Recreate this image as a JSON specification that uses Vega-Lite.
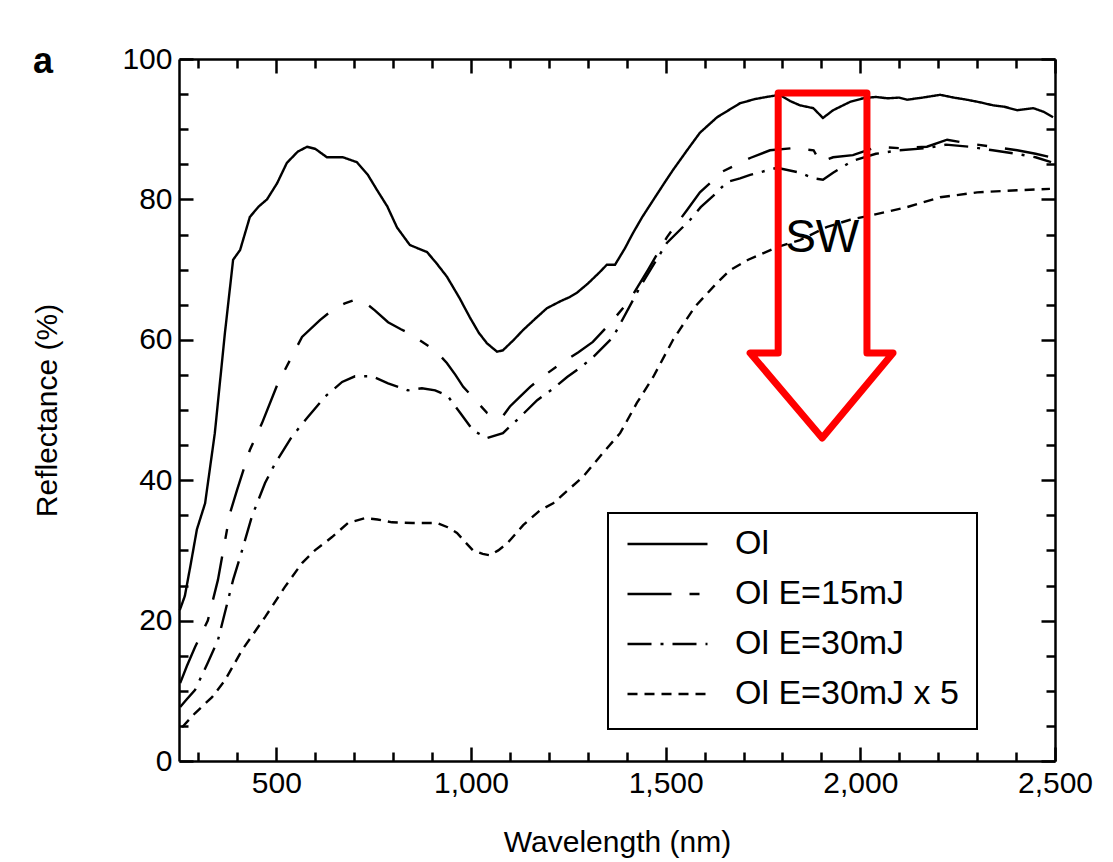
{
  "$schema": "https://vega.github.io/schema/vega-lite/v6.json",
  "width": 876,
  "height": 702,
  "autosize": {"type": "none"},
  "padding": {"left": 179, "top": 59, "right": 58, "bottom": 101},
  "background": "white",
  "title": {"text": "a", "anchor": "start", "frame": "group", "fontSize": 36, "fontWeight": "bold", "font": "Liberation Sans", "color": "black", "dx": -146, "baseline": "alphabetic", "offset": 0, "dy": 65},
  "config": {
    "view": {"stroke": null},
    "title": {"font": "Liberation Sans"},
    "axis": {"domainColor": "black", "domainWidth": 2.5, "tickColor": "black", "tickWidth": 2.5, "labelFont": "Liberation Sans", "labelFontSize": 30, "labelColor": "black", "titleFont": "Liberation Sans", "titleFontSize": 30, "titleFontWeight": "normal", "titleColor": "black", "grid": false, "labelOverlap": false, "labelFlush": false, "labelBound": false},
    "legend": {"strokeColor": "black", "strokeWidth": 2, "fillColor": "white"}
  },
  "datasets": {
    "series": [
      {"series": "Ol", "wavelength": 252, "reflectance": 21.5},
      {"series": "Ol", "wavelength": 265, "reflectance": 23.5},
      {"series": "Ol", "wavelength": 280, "reflectance": 28},
      {"series": "Ol", "wavelength": 296, "reflectance": 33},
      {"series": "Ol", "wavelength": 317, "reflectance": 36.7},
      {"series": "Ol", "wavelength": 342, "reflectance": 46.7},
      {"series": "Ol", "wavelength": 368, "reflectance": 61},
      {"series": "Ol", "wavelength": 389, "reflectance": 71.4},
      {"series": "Ol", "wavelength": 407, "reflectance": 72.8},
      {"series": "Ol", "wavelength": 432, "reflectance": 77.5},
      {"series": "Ol", "wavelength": 455, "reflectance": 79},
      {"series": "Ol", "wavelength": 476, "reflectance": 80},
      {"series": "Ol", "wavelength": 502, "reflectance": 82.3},
      {"series": "Ol", "wavelength": 527, "reflectance": 85.2},
      {"series": "Ol", "wavelength": 555, "reflectance": 86.8},
      {"series": "Ol", "wavelength": 579, "reflectance": 87.5},
      {"series": "Ol", "wavelength": 600, "reflectance": 87.2},
      {"series": "Ol", "wavelength": 630, "reflectance": 86},
      {"series": "Ol", "wavelength": 671, "reflectance": 86},
      {"series": "Ol", "wavelength": 707, "reflectance": 85.3},
      {"series": "Ol", "wavelength": 735, "reflectance": 83.5},
      {"series": "Ol", "wavelength": 759, "reflectance": 81.3},
      {"series": "Ol", "wavelength": 785, "reflectance": 79},
      {"series": "Ol", "wavelength": 810, "reflectance": 76},
      {"series": "Ol", "wavelength": 843, "reflectance": 73.5},
      {"series": "Ol", "wavelength": 865, "reflectance": 73},
      {"series": "Ol", "wavelength": 887, "reflectance": 72.5},
      {"series": "Ol", "wavelength": 910, "reflectance": 71},
      {"series": "Ol", "wavelength": 938, "reflectance": 69},
      {"series": "Ol", "wavelength": 970, "reflectance": 66},
      {"series": "Ol", "wavelength": 997, "reflectance": 63.2},
      {"series": "Ol", "wavelength": 1020, "reflectance": 61},
      {"series": "Ol", "wavelength": 1041, "reflectance": 59.5},
      {"series": "Ol", "wavelength": 1067, "reflectance": 58.3},
      {"series": "Ol", "wavelength": 1082, "reflectance": 58.5},
      {"series": "Ol", "wavelength": 1110, "reflectance": 60},
      {"series": "Ol", "wavelength": 1134, "reflectance": 61.4},
      {"series": "Ol", "wavelength": 1165, "reflectance": 63},
      {"series": "Ol", "wavelength": 1195, "reflectance": 64.5},
      {"series": "Ol", "wavelength": 1230, "reflectance": 65.5},
      {"series": "Ol", "wavelength": 1254, "reflectance": 66.1},
      {"series": "Ol", "wavelength": 1272, "reflectance": 66.7},
      {"series": "Ol", "wavelength": 1300, "reflectance": 68},
      {"series": "Ol", "wavelength": 1330, "reflectance": 69.6},
      {"series": "Ol", "wavelength": 1349, "reflectance": 70.7},
      {"series": "Ol", "wavelength": 1370, "reflectance": 70.7},
      {"series": "Ol", "wavelength": 1395, "reflectance": 73},
      {"series": "Ol", "wavelength": 1416, "reflectance": 75.2},
      {"series": "Ol", "wavelength": 1440, "reflectance": 77.5},
      {"series": "Ol", "wavelength": 1468, "reflectance": 79.9},
      {"series": "Ol", "wavelength": 1495, "reflectance": 82.2},
      {"series": "Ol", "wavelength": 1519, "reflectance": 84.2},
      {"series": "Ol", "wavelength": 1555, "reflectance": 87},
      {"series": "Ol", "wavelength": 1588, "reflectance": 89.5},
      {"series": "Ol", "wavelength": 1632, "reflectance": 91.7},
      {"series": "Ol", "wavelength": 1691, "reflectance": 93.7},
      {"series": "Ol", "wavelength": 1730, "reflectance": 94.3},
      {"series": "Ol", "wavelength": 1760, "reflectance": 94.6},
      {"series": "Ol", "wavelength": 1793, "reflectance": 94.9},
      {"series": "Ol", "wavelength": 1820, "reflectance": 94},
      {"series": "Ol", "wavelength": 1845, "reflectance": 93.4},
      {"series": "Ol", "wavelength": 1879, "reflectance": 93},
      {"series": "Ol", "wavelength": 1904, "reflectance": 91.6},
      {"series": "Ol", "wavelength": 1930, "reflectance": 92.7},
      {"series": "Ol", "wavelength": 1974, "reflectance": 93.9},
      {"series": "Ol", "wavelength": 2007, "reflectance": 94.4},
      {"series": "Ol", "wavelength": 2040, "reflectance": 94.6},
      {"series": "Ol", "wavelength": 2069, "reflectance": 94.4},
      {"series": "Ol", "wavelength": 2100, "reflectance": 94.5},
      {"series": "Ol", "wavelength": 2120, "reflectance": 94.2},
      {"series": "Ol", "wavelength": 2160, "reflectance": 94.5},
      {"series": "Ol", "wavelength": 2205, "reflectance": 94.9},
      {"series": "Ol", "wavelength": 2240, "reflectance": 94.5},
      {"series": "Ol", "wavelength": 2274, "reflectance": 94.2},
      {"series": "Ol", "wavelength": 2310, "reflectance": 93.8},
      {"series": "Ol", "wavelength": 2341, "reflectance": 93.4},
      {"series": "Ol", "wavelength": 2370, "reflectance": 93.2},
      {"series": "Ol", "wavelength": 2403, "reflectance": 92.7},
      {"series": "Ol", "wavelength": 2444, "reflectance": 93},
      {"series": "Ol", "wavelength": 2470, "reflectance": 92.5},
      {"series": "Ol", "wavelength": 2495, "reflectance": 91.7},

      {"series": "Ol E=15mJ", "wavelength": 253, "reflectance": 11.1},
      {"series": "Ol E=15mJ", "wavelength": 270, "reflectance": 13.5},
      {"series": "Ol E=15mJ", "wavelength": 291, "reflectance": 16.2},
      {"series": "Ol E=15mJ", "wavelength": 324, "reflectance": 20},
      {"series": "Ol E=15mJ", "wavelength": 350, "reflectance": 25.8},
      {"series": "Ol E=15mJ", "wavelength": 381, "reflectance": 35.3},
      {"series": "Ol E=15mJ", "wavelength": 399, "reflectance": 38.6},
      {"series": "Ol E=15mJ", "wavelength": 432, "reflectance": 44.3},
      {"series": "Ol E=15mJ", "wavelength": 463, "reflectance": 48.1},
      {"series": "Ol E=15mJ", "wavelength": 504, "reflectance": 53.8},
      {"series": "Ol E=15mJ", "wavelength": 535, "reflectance": 57.1},
      {"series": "Ol E=15mJ", "wavelength": 566, "reflectance": 60.4},
      {"series": "Ol E=15mJ", "wavelength": 612, "reflectance": 62.8},
      {"series": "Ol E=15mJ", "wavelength": 650, "reflectance": 64.5},
      {"series": "Ol E=15mJ", "wavelength": 676, "reflectance": 65.2},
      {"series": "Ol E=15mJ", "wavelength": 702, "reflectance": 65.7},
      {"series": "Ol E=15mJ", "wavelength": 730, "reflectance": 65.2},
      {"series": "Ol E=15mJ", "wavelength": 753, "reflectance": 64.2},
      {"series": "Ol E=15mJ", "wavelength": 787, "reflectance": 62.5},
      {"series": "Ol E=15mJ", "wavelength": 820, "reflectance": 61.5},
      {"series": "Ol E=15mJ", "wavelength": 849, "reflectance": 60.7},
      {"series": "Ol E=15mJ", "wavelength": 880, "reflectance": 59.5},
      {"series": "Ol E=15mJ", "wavelength": 908, "reflectance": 58.5},
      {"series": "Ol E=15mJ", "wavelength": 938, "reflectance": 56.7},
      {"series": "Ol E=15mJ", "wavelength": 960, "reflectance": 55},
      {"series": "Ol E=15mJ", "wavelength": 980, "reflectance": 53.3},
      {"series": "Ol E=15mJ", "wavelength": 1010, "reflectance": 51.5},
      {"series": "Ol E=15mJ", "wavelength": 1041, "reflectance": 49.6},
      {"series": "Ol E=15mJ", "wavelength": 1060, "reflectance": 49},
      {"series": "Ol E=15mJ", "wavelength": 1080, "reflectance": 49},
      {"series": "Ol E=15mJ", "wavelength": 1100, "reflectance": 50.5},
      {"series": "Ol E=15mJ", "wavelength": 1126, "reflectance": 51.9},
      {"series": "Ol E=15mJ", "wavelength": 1152, "reflectance": 53.3},
      {"series": "Ol E=15mJ", "wavelength": 1190, "reflectance": 55},
      {"series": "Ol E=15mJ", "wavelength": 1236, "reflectance": 56.8},
      {"series": "Ol E=15mJ", "wavelength": 1275, "reflectance": 58.2},
      {"series": "Ol E=15mJ", "wavelength": 1313, "reflectance": 59.7},
      {"series": "Ol E=15mJ", "wavelength": 1360, "reflectance": 62.5},
      {"series": "Ol E=15mJ", "wavelength": 1408, "reflectance": 65.7},
      {"series": "Ol E=15mJ", "wavelength": 1455, "reflectance": 70},
      {"series": "Ol E=15mJ", "wavelength": 1503, "reflectance": 74.6},
      {"series": "Ol E=15mJ", "wavelength": 1555, "reflectance": 78.5},
      {"series": "Ol E=15mJ", "wavelength": 1588, "reflectance": 81},
      {"series": "Ol E=15mJ", "wavelength": 1647, "reflectance": 84},
      {"series": "Ol E=15mJ", "wavelength": 1717, "reflectance": 85.9},
      {"series": "Ol E=15mJ", "wavelength": 1768, "reflectance": 87},
      {"series": "Ol E=15mJ", "wavelength": 1827, "reflectance": 87.3},
      {"series": "Ol E=15mJ", "wavelength": 1880, "reflectance": 87},
      {"series": "Ol E=15mJ", "wavelength": 1897, "reflectance": 85.3},
      {"series": "Ol E=15mJ", "wavelength": 1930, "reflectance": 86},
      {"series": "Ol E=15mJ", "wavelength": 1981, "reflectance": 86.3},
      {"series": "Ol E=15mJ", "wavelength": 2043, "reflectance": 87.5},
      {"series": "Ol E=15mJ", "wavelength": 2102, "reflectance": 87.3},
      {"series": "Ol E=15mJ", "wavelength": 2171, "reflectance": 87.5},
      {"series": "Ol E=15mJ", "wavelength": 2223, "reflectance": 88.5},
      {"series": "Ol E=15mJ", "wavelength": 2274, "reflectance": 88},
      {"series": "Ol E=15mJ", "wavelength": 2341, "reflectance": 87.5},
      {"series": "Ol E=15mJ", "wavelength": 2403, "reflectance": 87},
      {"series": "Ol E=15mJ", "wavelength": 2450, "reflectance": 86.5},
      {"series": "Ol E=15mJ", "wavelength": 2490, "reflectance": 86},

      {"series": "Ol E=30mJ", "wavelength": 253, "reflectance": 7.7},
      {"series": "Ol E=30mJ", "wavelength": 270, "reflectance": 8.8},
      {"series": "Ol E=30mJ", "wavelength": 291, "reflectance": 10.1},
      {"series": "Ol E=30mJ", "wavelength": 324, "reflectance": 14},
      {"series": "Ol E=30mJ", "wavelength": 350, "reflectance": 17.2},
      {"series": "Ol E=30mJ", "wavelength": 389, "reflectance": 25.8},
      {"series": "Ol E=30mJ", "wavelength": 412, "reflectance": 30},
      {"series": "Ol E=30mJ", "wavelength": 437, "reflectance": 34.8},
      {"series": "Ol E=30mJ", "wavelength": 471, "reflectance": 39.6},
      {"series": "Ol E=30mJ", "wavelength": 497, "reflectance": 42.4},
      {"series": "Ol E=30mJ", "wavelength": 540, "reflectance": 46.2},
      {"series": "Ol E=30mJ", "wavelength": 581, "reflectance": 49},
      {"series": "Ol E=30mJ", "wavelength": 625, "reflectance": 51.9},
      {"series": "Ol E=30mJ", "wavelength": 669, "reflectance": 54},
      {"series": "Ol E=30mJ", "wavelength": 702, "reflectance": 54.8},
      {"series": "Ol E=30mJ", "wavelength": 746, "reflectance": 54.8},
      {"series": "Ol E=30mJ", "wavelength": 787, "reflectance": 53.8},
      {"series": "Ol E=30mJ", "wavelength": 838, "reflectance": 52.8},
      {"series": "Ol E=30mJ", "wavelength": 874, "reflectance": 53.1},
      {"series": "Ol E=30mJ", "wavelength": 908, "reflectance": 52.8},
      {"series": "Ol E=30mJ", "wavelength": 940, "reflectance": 52},
      {"series": "Ol E=30mJ", "wavelength": 972, "reflectance": 49.6},
      {"series": "Ol E=30mJ", "wavelength": 1005, "reflectance": 47.1},
      {"series": "Ol E=30mJ", "wavelength": 1041, "reflectance": 46},
      {"series": "Ol E=30mJ", "wavelength": 1082, "reflectance": 46.7},
      {"series": "Ol E=30mJ", "wavelength": 1126, "reflectance": 49},
      {"series": "Ol E=30mJ", "wavelength": 1170, "reflectance": 51.4},
      {"series": "Ol E=30mJ", "wavelength": 1210, "reflectance": 53},
      {"series": "Ol E=30mJ", "wavelength": 1247, "reflectance": 54.7},
      {"series": "Ol E=30mJ", "wavelength": 1280, "reflectance": 56},
      {"series": "Ol E=30mJ", "wavelength": 1313, "reflectance": 57.5},
      {"series": "Ol E=30mJ", "wavelength": 1365, "reflectance": 60.4},
      {"series": "Ol E=30mJ", "wavelength": 1434, "reflectance": 67.5},
      {"series": "Ol E=30mJ", "wavelength": 1503, "reflectance": 73.8},
      {"series": "Ol E=30mJ", "wavelength": 1563, "reflectance": 77.1},
      {"series": "Ol E=30mJ", "wavelength": 1590, "reflectance": 78.9},
      {"series": "Ol E=30mJ", "wavelength": 1622, "reflectance": 80.5},
      {"series": "Ol E=30mJ", "wavelength": 1658, "reflectance": 82.5},
      {"series": "Ol E=30mJ", "wavelength": 1691, "reflectance": 83},
      {"series": "Ol E=30mJ", "wavelength": 1717, "reflectance": 83.5},
      {"series": "Ol E=30mJ", "wavelength": 1786, "reflectance": 84.5},
      {"series": "Ol E=30mJ", "wavelength": 1845, "reflectance": 83.8},
      {"series": "Ol E=30mJ", "wavelength": 1880, "reflectance": 83},
      {"series": "Ol E=30mJ", "wavelength": 1904, "reflectance": 82.8},
      {"series": "Ol E=30mJ", "wavelength": 1930, "reflectance": 83.8},
      {"series": "Ol E=30mJ", "wavelength": 1980, "reflectance": 85.5},
      {"series": "Ol E=30mJ", "wavelength": 2040, "reflectance": 86.5},
      {"series": "Ol E=30mJ", "wavelength": 2100, "reflectance": 87},
      {"series": "Ol E=30mJ", "wavelength": 2170, "reflectance": 87.3},
      {"series": "Ol E=30mJ", "wavelength": 2220, "reflectance": 87.8},
      {"series": "Ol E=30mJ", "wavelength": 2280, "reflectance": 87.5},
      {"series": "Ol E=30mJ", "wavelength": 2340, "reflectance": 87},
      {"series": "Ol E=30mJ", "wavelength": 2400, "reflectance": 86.5},
      {"series": "Ol E=30mJ", "wavelength": 2450, "reflectance": 86},
      {"series": "Ol E=30mJ", "wavelength": 2490, "reflectance": 85.3},

      {"series": "Ol E=30mJ x 5", "wavelength": 258, "reflectance": 4.8},
      {"series": "Ol E=30mJ x 5", "wavelength": 291, "reflectance": 6.8},
      {"series": "Ol E=30mJ x 5", "wavelength": 335, "reflectance": 9.1},
      {"series": "Ol E=30mJ x 5", "wavelength": 368, "reflectance": 11.5},
      {"series": "Ol E=30mJ x 5", "wavelength": 412, "reflectance": 15.8},
      {"series": "Ol E=30mJ x 5", "wavelength": 471, "reflectance": 20.5},
      {"series": "Ol E=30mJ x 5", "wavelength": 522, "reflectance": 24.8},
      {"series": "Ol E=30mJ x 5", "wavelength": 566, "reflectance": 28.2},
      {"series": "Ol E=30mJ x 5", "wavelength": 599, "reflectance": 30},
      {"series": "Ol E=30mJ x 5", "wavelength": 643, "reflectance": 31.9},
      {"series": "Ol E=30mJ x 5", "wavelength": 684, "reflectance": 33.9},
      {"series": "Ol E=30mJ x 5", "wavelength": 728, "reflectance": 34.6},
      {"series": "Ol E=30mJ x 5", "wavelength": 760, "reflectance": 34.4},
      {"series": "Ol E=30mJ x 5", "wavelength": 797, "reflectance": 34},
      {"series": "Ol E=30mJ x 5", "wavelength": 850, "reflectance": 33.9},
      {"series": "Ol E=30mJ x 5", "wavelength": 913, "reflectance": 33.9},
      {"series": "Ol E=30mJ x 5", "wavelength": 940, "reflectance": 33.3},
      {"series": "Ol E=30mJ x 5", "wavelength": 964, "reflectance": 32.5},
      {"series": "Ol E=30mJ x 5", "wavelength": 985, "reflectance": 31.2},
      {"series": "Ol E=30mJ x 5", "wavelength": 1005, "reflectance": 30},
      {"series": "Ol E=30mJ x 5", "wavelength": 1030, "reflectance": 29.5},
      {"series": "Ol E=30mJ x 5", "wavelength": 1049, "reflectance": 29.3},
      {"series": "Ol E=30mJ x 5", "wavelength": 1070, "reflectance": 30},
      {"series": "Ol E=30mJ x 5", "wavelength": 1093, "reflectance": 31},
      {"series": "Ol E=30mJ x 5", "wavelength": 1134, "reflectance": 33.6},
      {"series": "Ol E=30mJ x 5", "wavelength": 1177, "reflectance": 35.7},
      {"series": "Ol E=30mJ x 5", "wavelength": 1211, "reflectance": 36.7},
      {"series": "Ol E=30mJ x 5", "wavelength": 1229, "reflectance": 37.6},
      {"series": "Ol E=30mJ x 5", "wavelength": 1288, "reflectance": 40.5},
      {"series": "Ol E=30mJ x 5", "wavelength": 1339, "reflectance": 43.9},
      {"series": "Ol E=30mJ x 5", "wavelength": 1383, "reflectance": 46.7},
      {"series": "Ol E=30mJ x 5", "wavelength": 1426, "reflectance": 51},
      {"series": "Ol E=30mJ x 5", "wavelength": 1468, "reflectance": 54.7},
      {"series": "Ol E=30mJ x 5", "wavelength": 1519, "reflectance": 60},
      {"series": "Ol E=30mJ x 5", "wavelength": 1575, "reflectance": 64.7},
      {"series": "Ol E=30mJ x 5", "wavelength": 1630, "reflectance": 68},
      {"series": "Ol E=30mJ x 5", "wavelength": 1665, "reflectance": 69.9},
      {"series": "Ol E=30mJ x 5", "wavelength": 1712, "reflectance": 71.4},
      {"series": "Ol E=30mJ x 5", "wavelength": 1786, "reflectance": 73.2},
      {"series": "Ol E=30mJ x 5", "wavelength": 1845, "reflectance": 74.2},
      {"series": "Ol E=30mJ x 5", "wavelength": 1915, "reflectance": 76.1},
      {"series": "Ol E=30mJ x 5", "wavelength": 1974, "reflectance": 77.1},
      {"series": "Ol E=30mJ x 5", "wavelength": 2033, "reflectance": 77.8},
      {"series": "Ol E=30mJ x 5", "wavelength": 2120, "reflectance": 78.9},
      {"series": "Ol E=30mJ x 5", "wavelength": 2205, "reflectance": 80.3},
      {"series": "Ol E=30mJ x 5", "wavelength": 2300, "reflectance": 81},
      {"series": "Ol E=30mJ x 5", "wavelength": 2403, "reflectance": 81.3},
      {"series": "Ol E=30mJ x 5", "wavelength": 2487, "reflectance": 81.5}
    ],
    "arrow": [
      {"k": 0, "wavelength": 1789, "reflectance": 95.16},
      {"k": 1, "wavelength": 2017, "reflectance": 95.16},
      {"k": 2, "wavelength": 2017, "reflectance": 58.12},
      {"k": 3, "wavelength": 2084, "reflectance": 58.12},
      {"k": 4, "wavelength": 1902, "reflectance": 46.0},
      {"k": 5, "wavelength": 1717, "reflectance": 58.12},
      {"k": 6, "wavelength": 1789, "reflectance": 58.12},
      {"k": 7, "wavelength": 1789, "reflectance": 95.16}
    ],
    "note": [
      {"label": "SW", "wavelength": 1902, "reflectance": 72.5}
    ]
  },
  "layer": [
    {
      "data": {"name": "series"},
      "mark": {"type": "line", "color": "black", "strokeWidth": 2.4},
      "encoding": {
        "x": {
          "field": "wavelength", "type": "quantitative",
          "scale": {"domain": [250, 2500], "nice": false, "zero": false},
          "axis": {
            "orient": "bottom", "title": "Wavelength (nm)", "titlePadding": 24,
            "values": [300,400,500,600,700,800,900,1000,1100,1200,1300,1400,1500,1600,1700,1800,1900,2000,2100,2200,2300,2400,2500],
            "tickSize": {"condition": {"test": "datum.value % 500 === 0", "value": -14}, "value": -9},
            "labelExpr": "datum.value % 500 === 0 ? format(datum.value, ',') : ''",
            "labelPadding": 21
          }
        },
        "y": {
          "field": "reflectance", "type": "quantitative",
          "scale": {"domain": [0, 100], "nice": false, "zero": false},
          "axis": {
            "orient": "left", "title": "Reflectance (%)", "titlePadding": 59,
            "values": [0,5,10,15,20,25,30,35,40,45,50,55,60,65,70,75,80,85,90,95,100],
            "tickSize": {"condition": {"test": "datum.value % 20 === 0", "value": -14}, "value": -9},
            "labelExpr": "datum.value % 20 === 0 ? datum.label : ''",
            "labelPadding": 21
          }
        },
        "strokeDash": {
          "field": "series", "type": "nominal",
          "scale": {"domain": ["Ol", "Ol E=15mJ", "Ol E=30mJ", "Ol E=30mJ x 5"], "range": [[1, 0], [44, 18, 10, 18], [24, 9, 3, 9], [10, 7]]},
          "legend": {
            "title": null, "orient": "none", "legendX": 429, "legendY": 454,
            "symbolType": "stroke", "symbolSize": 6400, "symbolStrokeWidth": 2.4, "symbolStrokeColor": "black",
            "labelFont": "Liberation Sans", "labelFontSize": 34, "labelColor": "black", "labelOffset": 26, "labelLimit": 500,
            "clipHeight": 26, "rowPadding": 16, "padding": 18
          }
        }
      }
    },
    {
      "data": {"name": "arrow"},
      "mark": {"type": "line", "color": "#ff0000", "strokeWidth": 7, "strokeJoin": "round", "strokeCap": "round"},
      "encoding": {
        "x": {
          "field": "wavelength", "type": "quantitative",
          "axis": {
            "orient": "top", "title": null, "labels": false,
            "values": [300,400,500,600,700,800,900,1000,1100,1200,1300,1400,1500,1600,1700,1800,1900,2000,2100,2200,2300,2400,2500],
            "tickSize": {"condition": {"test": "datum.value % 500 === 0", "value": -14}, "value": -9}
          }
        },
        "y": {
          "field": "reflectance", "type": "quantitative",
          "axis": {
            "orient": "right", "title": null, "labels": false,
            "values": [0,5,10,15,20,25,30,35,40,45,50,55,60,65,70,75,80,85,90,95,100],
            "tickSize": {"condition": {"test": "datum.value % 20 === 0", "value": -14}, "value": -9}
          }
        },
        "order": {"field": "k", "type": "quantitative"}
      }
    },
    {
      "data": {"name": "note"},
      "mark": {"type": "text", "font": "Liberation Sans", "fontSize": 46, "color": "black", "baseline": "alphabetic", "align": "center"},
      "encoding": {
        "x": {"field": "wavelength", "type": "quantitative", "axis": null},
        "y": {"field": "reflectance", "type": "quantitative", "axis": null},
        "text": {"field": "label"}
      }
    }
  ],
  "resolve": {"axis": {"x": "independent", "y": "independent"}}
}
